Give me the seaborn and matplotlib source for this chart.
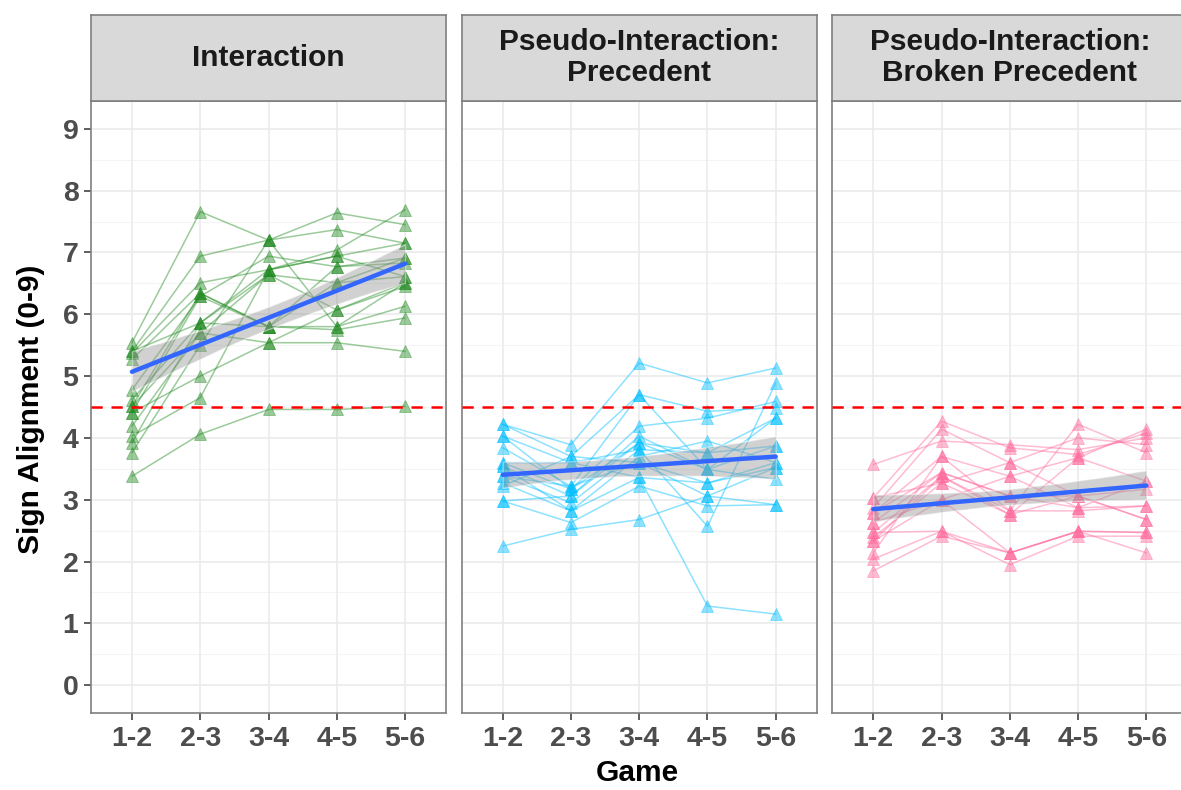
import numpy as np
import pandas as pd
import matplotlib
matplotlib.use("Agg")
import matplotlib.pyplot as plt
import seaborn as sns

games = ["1-2", "2-3", "3-4", "4-5", "5-6"]
conditions = ["Interaction", "Pseudo-Interaction:\nPrecedent", "Pseudo-Interaction:\nBroken Precedent"]
colors = ["#228B22", "#00BFFF", "#FF6A9E"]

interaction = [
    [3.38, 4.06, 4.46, 4.46, 4.51],
    [5.54, 7.66, 7.20, 7.64, 7.45],
    [5.40, 6.94, 7.20, 7.37, 7.15],
    [5.37, 6.51, 6.72, 6.94, 6.61],
    [5.27, 6.34, 5.80, 5.80, 6.13],
    [4.78, 6.29, 5.80, 5.75, 5.94],
    [4.62, 5.86, 6.72, 7.04, 7.69],
    [4.51, 5.70, 5.54, 5.54, 5.40],
    [4.41, 5.00, 5.54, 6.07, 6.45],
    [4.41, 6.29, 6.94, 6.77, 6.83],
    [4.19, 5.70, 6.64, 6.51, 6.91],
    [4.03, 4.65, 6.72, 6.94, 7.15],
    [3.92, 5.86, 6.64, 6.07, 6.51],
    [3.76, 5.50, 7.20, 5.80, 6.51],
    [4.51, 6.34, 5.80, 6.77, 6.91],
    [5.40, 5.86, 5.80, 6.51, 6.61],
]

precedent = [
    [2.25, 2.52, 2.68, 3.06, 2.92],
    [4.22, 3.89, 5.21, 4.89, 5.13],
    [4.22, 3.70, 4.70, 4.43, 4.49],
    [4.03, 3.60, 3.36, 1.28, 1.15],
    [3.84, 3.22, 4.70, 3.49, 4.32],
    [3.60, 3.17, 4.19, 4.32, 4.59],
    [3.54, 3.06, 3.92, 3.76, 3.87],
    [3.38, 2.95, 3.81, 2.57, 4.89],
    [3.27, 2.82, 3.70, 3.95, 3.60],
    [3.22, 3.70, 3.60, 3.27, 3.52],
    [2.98, 2.63, 3.22, 2.90, 2.92],
    [2.98, 3.06, 4.03, 3.49, 3.33],
    [3.38, 3.22, 3.60, 3.06, 3.52],
    [4.03, 3.17, 3.92, 3.49, 3.87],
    [3.54, 2.82, 3.36, 3.27, 3.60],
    [3.60, 3.60, 3.81, 3.76, 4.32],
]

broken = [
    [3.57, 3.95, 3.89, 3.81, 4.00],
    [1.85, 2.41, 2.14, 2.49, 2.47],
    [2.04, 2.49, 1.95, 2.41, 2.41],
    [3.03, 4.27, 3.84, 3.73, 4.08],
    [2.87, 4.14, 3.60, 4.00, 3.89],
    [2.79, 3.70, 3.38, 3.68, 4.14],
    [2.63, 3.44, 3.06, 2.87, 3.30],
    [2.47, 3.38, 2.82, 2.82, 2.90],
    [2.39, 3.27, 2.76, 3.06, 2.68],
    [2.33, 3.00, 2.14, 2.49, 2.14],
    [2.14, 3.70, 2.82, 4.22, 3.76],
    [2.79, 3.44, 3.06, 3.06, 3.17],
    [2.63, 3.00, 3.38, 2.87, 2.90],
    [2.47, 2.49, 2.14, 2.49, 2.47],
    [3.03, 3.27, 3.60, 3.06, 2.68],
    [2.33, 3.38, 2.76, 3.68, 3.30],
]

chance_level = 4.5
y_ticks = list(range(0, 10))

sns.set_theme(style="white")
plt.rcParams["font.family"] = ["Liberation Sans", "DejaVu Sans"]

W, H = 1181, 790
fig = plt.figure(figsize=(W / 100, H / 100), dpi=100)

panel_lefts = [91, 461.7, 832.3]
panel_w = 355
panel_top, panel_bottom = 101, 713
strip_top = 15

all_data = [interaction, precedent, broken]
axes = []
for i, (cond, data, col) in enumerate(zip(conditions, all_data, colors)):
    left = panel_lefts[i] / W
    ax = fig.add_axes([left, (H - panel_bottom) / H, panel_w / W, (panel_bottom - panel_top) / H])
    axes.append(ax)
    rows = []
    for pid, vals in enumerate(data):
        for gi, v in enumerate(vals):
            rows.append({"pair": pid, "x": gi, "score": v})
    df = pd.DataFrame(rows)

    # grid
    ax.set_xlim(-0.6, 4.6)
    ax.set_ylim(-0.45, 9.45)
    for yv in np.arange(-0.5, 9.6, 0.5):
        if abs(yv - round(yv)) < 1e-9:
            ax.axhline(yv, color="#EBEBEB", lw=1.2, zorder=0)
        else:
            ax.axhline(yv, color="#F4F4F4", lw=0.8, zorder=0)
    for xv in range(5):
        ax.axvline(xv, color="#EBEBEB", lw=1.2, zorder=0)

    sns.lineplot(data=df, x="x", y="score", units="pair", estimator=None,
                 color=col, alpha=0.45, lw=1.1, marker="^", markersize=8.5,
                 markeredgewidth=0.6, markeredgecolor=col, ax=ax, legend=False, zorder=2)

    n_before = len(ax.collections)
    sns.regplot(data=df, x="x", y="score", scatter=False, ci=95, color="#3366FF",
                line_kws={"lw": 3.2, "zorder": 4}, ax=ax, truncate=True)
    for c in ax.collections[n_before:]:
        c.set_facecolor("#999999")
        c.set_alpha(0.45)
        c.set_zorder(3)

    ax.axhline(chance_level, color="#FF0000", lw=1.8, ls=(0, (4.5, 3.5)), zorder=5)

    ax.set_xticks(range(5))
    ax.set_xticklabels(games)
    ax.set_yticks(y_ticks)
    ax.tick_params(axis="both", which="major", length=5, width=1.1, color="#333333",
                   labelsize=20.5, labelcolor="#4D4D4D", direction="out", pad=4,
                   bottom=True, left=(i == 0))
    for lab in ax.get_xticklabels() + ax.get_yticklabels():
        lab.set_fontweight("bold")
    if i != 0:
        ax.set_yticklabels([])
    ax.set_xlabel("")
    ax.set_ylabel("")
    for s in ax.spines.values():
        s.set_color("#7F7F7F")
        s.set_linewidth(1.2)
        s.set_visible(True)

    # strip
    sax = fig.add_axes([left, (H - panel_top + 0.5) / H, panel_w / W, (panel_top - strip_top) / H])
    sax.set_facecolor("#D9D9D9")
    sax.set_xticks([])
    sax.set_yticks([])
    for s in sax.spines.values():
        s.set_color("#7F7F7F")
        s.set_linewidth(1.2)
        s.set_visible(True)
    sax.text(0.5, 0.5, cond, ha="center", va="center", fontsize=21.5,
             fontweight="bold", color="#1A1A1A", linespacing=1.12,
             transform=sax.transAxes)

fig.text(31 / W, 1 - 409 / H, "Sign Alignment (0-9)", rotation=90, ha="center",
         va="center", fontsize=21.5, fontweight="bold", color="black")
fig.text(637 / W, 1 - 773 / H, "Game", ha="center", va="center",
         fontsize=21.5, fontweight="bold", color="black")

fig.savefig("out.png", dpi=100, facecolor="white")
